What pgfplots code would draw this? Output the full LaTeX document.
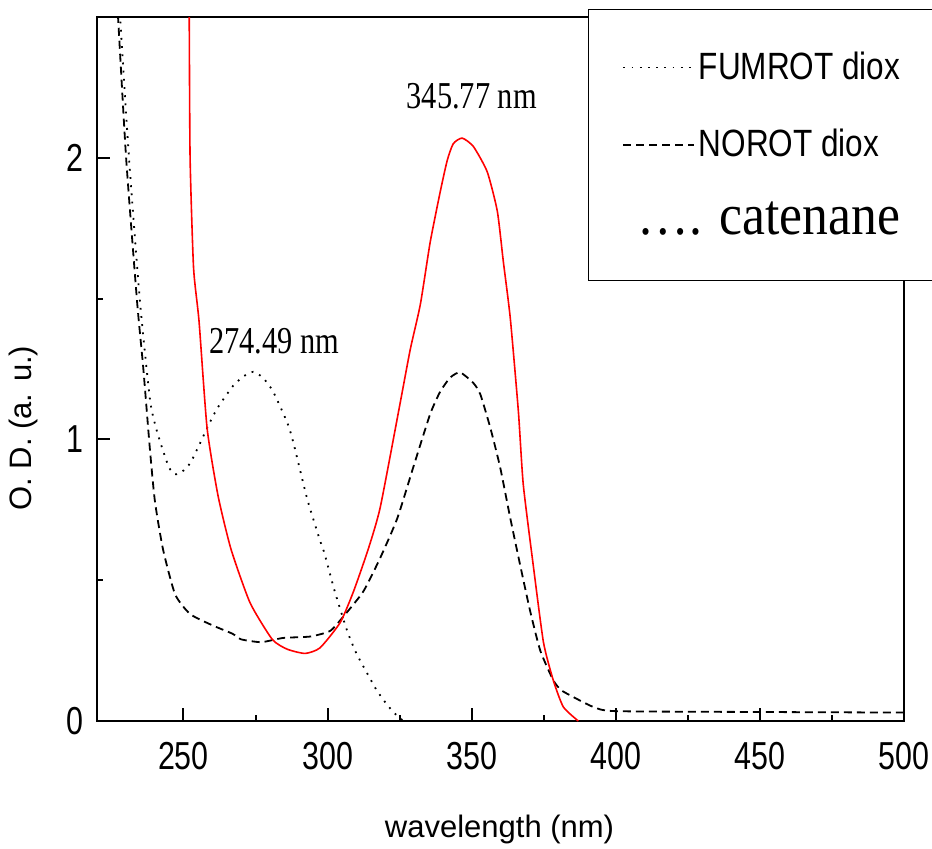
\documentclass[border=0pt]{standalone}
\usepackage{fontspec}
\setmainfont{Liberation Sans}
\newfontfamily\ticksfont[FakeStretch=0.78]{Liberation Sans}
\newfontfamily\legfont[FakeStretch=0.83]{Liberation Sans}
\newfontfamily\annfont[FakeStretch=0.8]{Liberation Serif}
\newfontfamily\catfont[FakeStretch=0.89]{Liberation Serif}
\usepackage{pgfplots}
\pgfplotsset{compat=1.18}
\begin{document}
\begin{tikzpicture}
\begin{axis}[
  name=ax,
  scale only axis,
  width=403.5pt, height=352pt,
  xmin=220, xmax=500, ymin=0, ymax=2.5,
  xtick={250,300,350,400,450,500},
  ytick={0,1,2},
  minor x tick num=1, minor y tick num=1,
  tick align=inside,
  xtick pos=left, ytick pos=left,
  major tick length=6.5pt, minor tick length=3pt,
  major tick style={line width=1pt, black},
  minor tick style={line width=1pt, black},
  axis line style={line width=1.3pt, black},
  /pgf/number format/assume math mode=true,
  tick label style={font=\ticksfont\fontsize{19.5pt}{20pt}\selectfont},
  xticklabel style={inner sep=0pt, yshift=-10.5pt},
  yticklabel style={inner sep=0pt, xshift=-6.75pt},
  xlabel={wavelength (nm)},
  ylabel={O. D. (a. u.)},
  xlabel style={at={(axis description cs:0.4988,-0.1648)}, anchor=base, inner sep=0pt, font=\fontsize{15.5pt}{16pt}\selectfont},
  ylabel style={at={(axis description cs:-0.0905,0.416)}, anchor=center, inner sep=0pt, font=\fontsize{15.5pt}{16pt}\selectfont},
  legend image code/.code={\draw[#1] (0pt,0pt) -- (35.5pt,0pt);},
  legend cell align=left,
  legend style={at={(axis description cs:0.6084,1.0114)}, anchor=north west,
    draw=black, line width=0.5pt, fill=white,
    inner xsep=17pt, inner ysep=21pt, row sep=22.75pt, column sep=1.75pt,
    font=\legfont\fontsize{19pt}{20pt}\selectfont,
    nodes={inner sep=0pt, text height=14pt, text depth=2pt}},
]
% FUMROT diox (dotted)
\addplot[black, line width=0.9pt, dash pattern=on 0.9pt off 3.2pt, smooth, tension=0.35] coordinates {
(227.5,2.6) (228.0,2.5) (231.1,2.0) (234.9,1.49) (238.4,1.14) (240.5,1.04)
(242.6,0.97) (245,0.90) (247.1,0.876) (249.5,0.885) (252.3,0.915) (255,0.97)
(258.2,1.04) (261.7,1.11) (267.2,1.19) (271,1.225) (274.2,1.24) (277.5,1.22)
(281.1,1.17) (286,1.06) (288.1,0.99) (292.9,0.79) (297.4,0.64) (298.8,0.60)
(302.5,0.46) (306.8,0.32) (310,0.24) (313.7,0.17) (317,0.11) (320.7,0.057)
(323.5,0.025) (326.3,0.0)
};
\addlegendentry{FUMROT diox}
% NOROT diox (dashed)
\addplot[black, line width=0.9pt, dash pattern=on 4pt off 2.5pt, smooth, tension=0.35] coordinates {
(226.7,2.6) (227.3,2.5) (230.1,2.0) (233.9,1.49) (236,1.26) (238.4,0.96)
(240.1,0.78) (242.9,0.61) (247.1,0.45) (252.3,0.38) (260,0.34) (267,0.31)
(270,0.29) (277,0.28) (284.6,0.295) (294,0.30) (300.9,0.32) (305.4,0.37)
(312.4,0.46) (318.3,0.58) (324.2,0.72) (329.7,0.90) (335.6,1.09) (339.1,1.17)
(342.6,1.22) (346,1.238) (350.6,1.20) (353,1.16) (356.5,1.04) (359.9,0.90)
(363.4,0.72) (366.9,0.55) (370.3,0.39) (373.8,0.25) (378.3,0.145) (381,0.11)
(385.3,0.085) (392.2,0.05) (400,0.035) (450,0.032) (500,0.03)
};
\addlegendentry{NOROT diox}
% catenane (red)
\addplot[red, line width=0.8pt, forget plot, smooth, tension=0.35] coordinates {
(251.9,2.6) (252.0,2.5) (252.3,2.0) (253.5,1.61) (255.4,1.42) (258.2,1.04)
(262,0.80) (266.5,0.61) (273.1,0.42) (280.8,0.29) (286,0.255) (292.2,0.24)
(297.4,0.26) (304.4,0.35) (309,0.46) (314.1,0.61) (318.3,0.76) (325.2,1.13)
(328.7,1.32) (332.2,1.48) (335.6,1.70) (339.1,1.88) (341.5,1.99) (343.6,2.05)
(346.7,2.07) (350.6,2.04) (355.4,1.95) (358.9,1.81) (361.0,1.63) (363.4,1.43)
(366.2,1.10) (367.9,0.84) (371.4,0.55) (374.9,0.28) (378.3,0.145) (381.8,0.05)
(387.0,0.0)
};
\addlegendimage{empty legend}
\addlegendentry{\catfont\fontsize{29pt}{30pt}\selectfont\hspace*{-30.5pt}…. catenane\hspace*{10pt}}
\node[font=\annfont\fontsize{19pt}{20pt}\selectfont, anchor=base, inner sep=0pt] at (axis cs:350.0,2.174) {345.77 nm};
\node[font=\annfont\fontsize{19pt}{20pt}\selectfont, anchor=base, inner sep=0pt] at (axis cs:281.5,1.305) {274.49 nm};
\end{axis}
\pgfresetboundingbox
\path[use as bounding box] ([shift={(-48.5pt,-63.5pt)}]ax.south west) rectangle ([shift={(417.5pt,360.5pt)}]ax.south west);
\end{tikzpicture}
\end{document}
